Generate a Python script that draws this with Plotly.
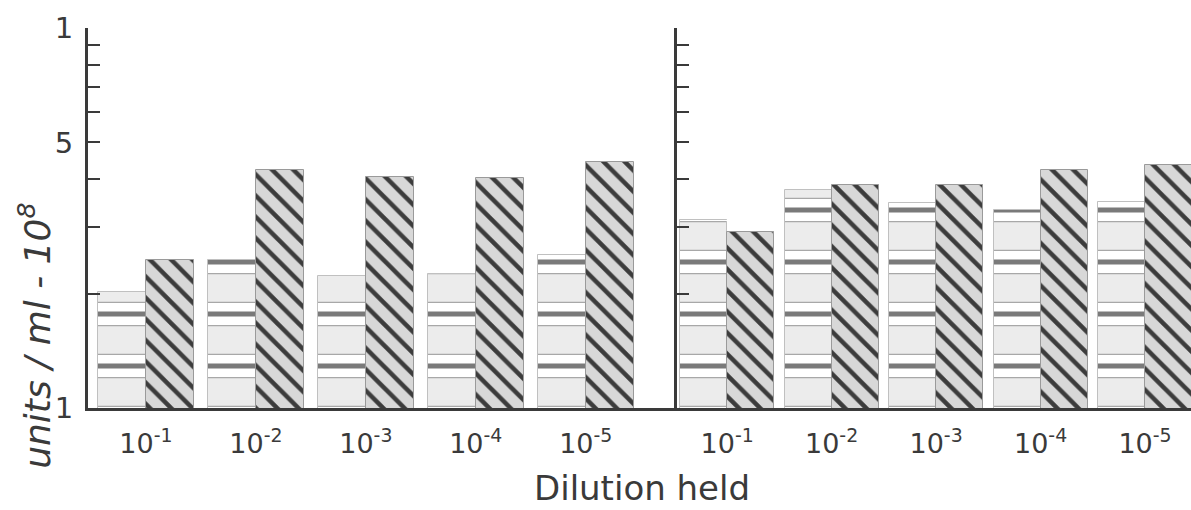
import plotly.graph_objects as go

groups = [1, 2, 3, 4, 5]
dilution_labels = ["10<sup>-1</sup>", "10<sup>-2</sup>", "10<sup>-3</sup>", "10<sup>-4</sup>", "10<sup>-5</sup>"]

# Left panel values (units/ml x 10^8)
left_striped = [2.02, 2.45, 2.22, 2.25, 2.53]
left_hatched = [2.45, 4.23, 4.05, 4.03, 4.45]
# Right panel values
right_striped = [3.12, 3.75, 3.46, 3.32, 3.48]
right_hatched = [2.90, 3.86, 3.86, 4.23, 4.36]

y_tickvals = [1, 2, 3, 4, 5, 6, 7, 8, 9, 10]
y_ticktext = ["1", "", "", "", "5", "", "", "", "", "1"]

INK = "#3a3a3a"
FONT = "DejaVu Sans"

# striped bars: light outlined boxes separated by white gaps with a dark band in the middle
edge_pattern = dict(shape="-", fgcolor="#a8a8a8", bgcolor="#ececec", size=52, solidity=0.47, fillmode="replace")
gap_pattern = dict(shape="-", fgcolor="white", bgcolor="rgba(0,0,0,0)", size=52, solidity=0.42, fillmode="replace")
band_pattern = dict(shape="-", fgcolor="#7a7a7a", bgcolor="rgba(0,0,0,0)", size=52, solidity=0.1, fillmode="replace")
hatched_pattern = dict(shape="\\", fgcolor="#3c3c3c", bgcolor="#d8d8d8", size=15, solidity=0.3, fillmode="replace")

fig = go.Figure()

wl = 0.436
wr = 0.45


def add_panel(striped, hatched, w, xa, ya):
    fig.add_trace(go.Bar(x=groups, y=striped, width=w, offset=-w, xaxis=xa, yaxis=ya,
                         marker=dict(color="#ececec", pattern=edge_pattern, line=dict(color="#c0c0c0", width=1)),
                         showlegend=False, hoverinfo="skip"))
    fig.add_trace(go.Bar(x=groups, y=striped, width=w, offset=-w, xaxis=xa, yaxis=ya,
                         marker=dict(color="rgba(0,0,0,0)", pattern=gap_pattern, line=dict(width=0)),
                         showlegend=False, hoverinfo="skip"))
    fig.add_trace(go.Bar(x=groups, y=striped, width=w, offset=-w, xaxis=xa, yaxis=ya,
                         marker=dict(color="rgba(0,0,0,0)", pattern=band_pattern, line=dict(width=0)),
                         showlegend=False))
    fig.add_trace(go.Bar(x=groups, y=hatched, width=w, offset=0, xaxis=xa, yaxis=ya,
                         marker=dict(color="#d8d8d8", pattern=hatched_pattern, line=dict(color="#9a9a9a", width=1)),
                         showlegend=False))


add_panel(left_striped, left_hatched, wl, "x", "y")
add_panel(right_striped, right_hatched, wr, "x2", "y2")

xcommon = dict(tickvals=groups, ticktext=dilution_labels, ticks="", showgrid=False, zeroline=False,
               showline=True, linecolor=INK, linewidth=3, tickfont=dict(family=FONT, size=27, color=INK),
               ticklabelstandoff=10)
ycommon = dict(type="log", range=[0, 1], tickvals=y_tickvals, showgrid=False, zeroline=False,
               showline=True, linecolor=INK, linewidth=3, ticks="inside", ticklen=12, tickwidth=2,
               tickcolor=INK)

fig.update_layout(
    width=1191, height=510,
    margin=dict(l=88, r=0, t=28, b=102),
    paper_bgcolor="white", plot_bgcolor="white",
    barmode="overlay", bargap=0,
    xaxis=dict(domain=[0, 0.534], range=[0.473, 5.83], anchor="y", **xcommon),
    xaxis2=dict(domain=[0.534, 1], range=[0.52, 5.44], anchor="y2", **xcommon),
    yaxis=dict(anchor="x", ticktext=y_ticktext, tickfont=dict(family=FONT, size=29, color=INK),
               ticklabelstandoff=6, **ycommon),
    yaxis2=dict(anchor="x2", showticklabels=False, **ycommon),
    annotations=[
        dict(text="units / ml - 10<sup>8</sup>", textangle=-90, xref="paper", yref="paper",
             x=-0.048, y=0.19, xanchor="center", yanchor="middle", showarrow=False,
             font=dict(family=FONT, size=36, color=INK, style="italic")),
        dict(text="Dilution held", xref="paper", yref="paper", x=0.502, y=-0.21,
             xanchor="center", yanchor="middle", showarrow=False,
             font=dict(family=FONT, size=34, color=INK)),
    ],
)

fig.write_html("out.html")
